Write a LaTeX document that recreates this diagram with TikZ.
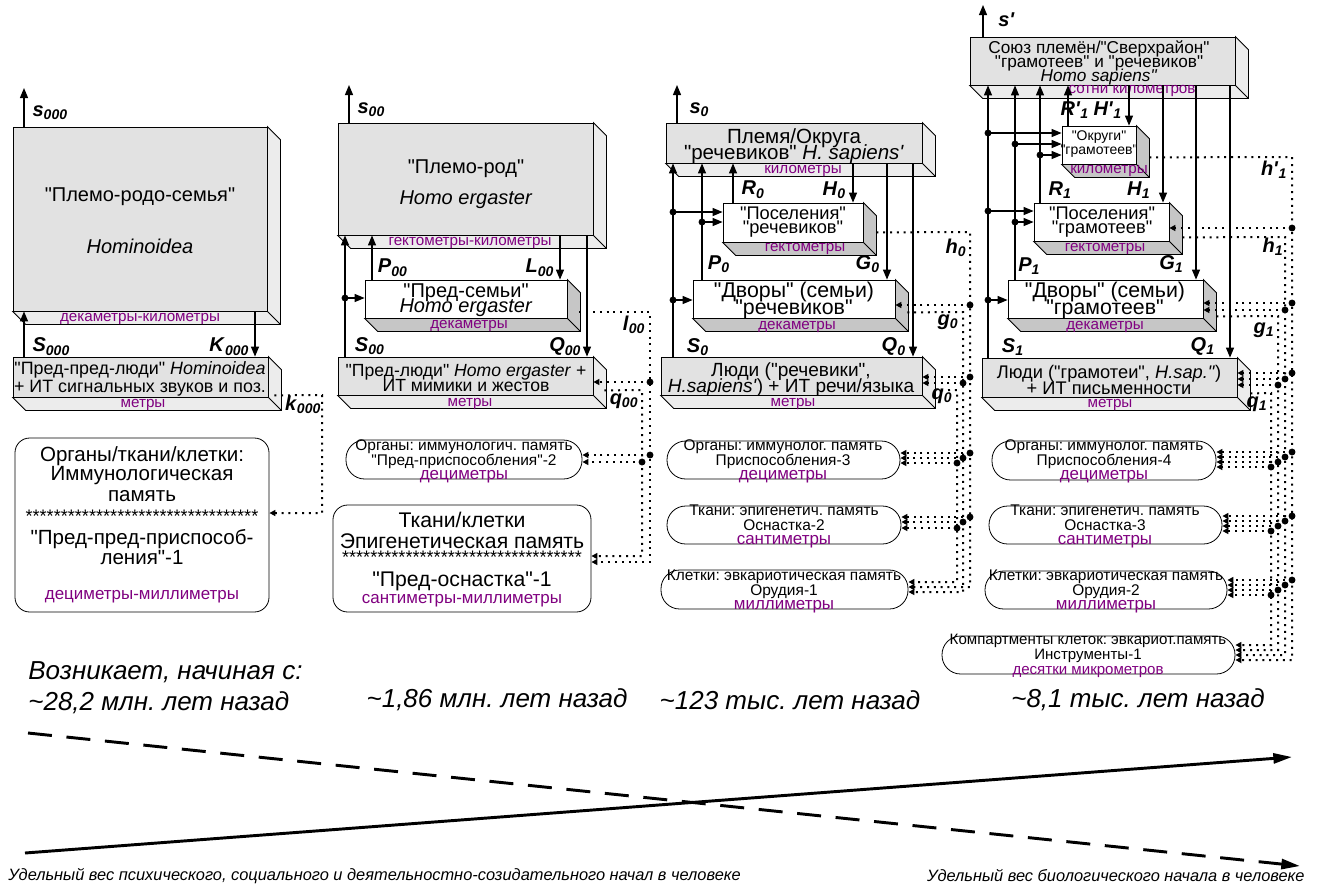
\documentclass[tikz,border=0pt]{standalone}
\usepackage{fontspec}
\setmainfont{Liberation Sans}[Ligatures=TeXOff]
\usetikzlibrary{arrows.meta,fit}

\definecolor{boxgray}{RGB}{226,226,226}
\definecolor{sidegray}{RGB}{236,236,236}
\definecolor{darkside}{RGB}{198,198,198}
\definecolor{unitpurple}{RGB}{128,0,128}

\newcommand\fs[2]{\fontsize{#1}{#2}\selectfont\lineskiplimit=-50pt\relax}
\newcommand\sig[2]{\textbf{\textit{#1}}\textsubscript{\textbf{\textit{#2}}}}
% боковая и нижняя грани блока
\newcommand\extrude[2]{%
  \filldraw[fill=#2] (#1.north east) -- ++(13,13) -- ([shift={(13,13)}]#1.south east)
    -- ([shift={(13,13)}]#1.south west) -- (#1.south west) -- (#1.south east) -- cycle;
  \draw (#1.south east) -- ++(13,13);}
% точка на линии и ответвление в блок
\newcommand\tap[3]{%
  \coordinate (#1) at (#2);
  \fill (#1) circle (2.6pt);
  \draw[darr] (#1) -- (#3.east |- #1);}

\begin{document}
\frenchspacing
\begin{tikzpicture}[x=0.75pt, y=-0.75pt, line width=0.6pt,
    gbox/.style={draw, fill=boxgray, inner sep=0pt},
    wbox/.style={draw, fill=white, inner sep=0pt},
    rbox/.style={draw, fill=white, inner sep=0pt, rounded corners=11pt},
    pill/.style={draw, fill=white, inner sep=0pt, rounded corners=14pt},
    txt/.style={align=center, inner sep=0pt},
    unit/.style={text=unitpurple, inner sep=0pt, font={\fs{11.4}{12}}},
    arr/.style={line width=0.9pt, -{Triangle[length=7.5pt,width=6pt]}},
    darr/.style={line width=1.5pt, dash pattern=on 1.5pt off 3.6pt, -{Triangle[length=4.5pt,width=4.5pt]}},
    lab/.style={inner sep=1pt, font={\fs{15}{15}}},
    era/.style={inner sep=0pt, font={\fs{19.5}{20}\itshape}},
    trend/.style={line width=2.2pt, -{Triangle[length=14pt,width=7.5pt]}}]
    \useasboundingbox (0,0) rectangle (1317,883);

    % Племо-родо-семья
    \node[gbox, fit={(13,127) (267,311)}] (pl000) {};
    \extrude{pl000}{sidegray}
    \node[txt, font={\fs{15}{15}}] (pl000-t) at (140,221) {"Племо-родо-семья"\\[24pt]\textit{Hominoidea}};
    \node[unit] (pl000-u) at (140,319) {декаметры-километры};

    \node[gbox, fit={(13,357) (268,397)}] (ppl000) {};
    \extrude{ppl000}{sidegray}
    \node[txt, font={\fs{13.4}{13}}] (ppl000-t) at (140,379) {"Пред-пред-люди" \textit{Hominoidea}\\+ ИТ сигнальных звуков и поз.};
    \node[unit] (ppl000-u) at (143,405) {метры};

    \node[rbox, fit={(15,438) (269,612)}] (org000) {};
    \node[txt, font={\fs{15.4}{15}}] (org000-t) at (142,525) {Органы/ткани/клетки:\\[-0.75pt]Иммунологическая\\[0.75pt]память\\[0.75pt]{\fs{13.6}{15}*********************************}\\[1.5pt]"Пред-пред-приспособ-\\ления"-1\\[11.25pt]\textcolor{unitpurple}{\fs{12.7}{15}дециметры-миллиметры}};

    % Племо-род
    \node[gbox, fit={(338,123) (593,235)}] (pl00) {};
    \extrude{pl00}{sidegray}
    \node[txt, font={\fs{15}{15}}] (pl00-t) at (466,184) {"Племо-род"\\[8.25pt]\textit{Homo ergaster}};
    \node[unit] (pl00-u) at (470,243) {гектометры-километры};

    \node[wbox, fit={(365,280) (567,318)}] (ps00) {};
    \extrude{ps00}{darkside}
    \node[txt, font={\fs{15}{11.5}}] (ps00-t) at (466,300) {"Пред-семьи"\\\textit{Homo ergaster}};
    \node[unit] (ps00-u) at (469,326) {декаметры};

    \node[gbox, fit={(338,357) (593,395)}] (pld00) {};
    \extrude{pld00}{sidegray}
    \node[txt, font={\fs{13.2}{11.5}}] (pld00-t) at (466,378) {"Пред-люди" \textit{Homo ergaster} +\\ИТ мимики и жестов};
    \node[unit] (pld00-u) at (470,404) {метры};

    \node[pill, fit={(346,440) (582,479)}] (org00) {};
    \node[txt, font={\fs{11.6}{11.25}}] (org00-t) at (464,461) {Органы: иммунологич. память\\"Пред-приспособления"-2\\[-0.75pt]\textcolor{unitpurple}{\fs{12.7}{11}дециметры}};

    \node[rbox, fit={(333,505) (591,612)}] (tk00) {};
    \node[txt, font={\fs{15.9}{15.75}}] (tk00-t) at (462,560) {Ткани/клетки\\Эпигенетическая память\\[-4.5pt]{\fs{13.6}{15}**********************************}\\[1.5pt]"Пред-оснастка"-1\\[-3pt]\textcolor{unitpurple}{\fs{12.7}{13}сантиметры-миллиметры}};

    % Племя/Округа "речевиков"
    \node[gbox, fit={(666,123) (922,163)}] (pm0) {};
    \extrude{pm0}{sidegray}
    \node[txt, font={\fs{15.4}{12}}] (pm0-t) at (794,146) {Племя/Округа\\"речевиков" \textit{H. sapiens'}};
    \node[unit] (pm0-u) at (803,171) {километры};

    \node[wbox, fit={(723,203) (863,242)}] (pos0) {};
    \extrude{pos0}{darkside}
    \node[txt, font={\fs{13.7}{11}}] (pos0-t) at (793,222) {"Поселения"\\"речевиков"};
    \node[unit] (pos0-u) at (805,249) {гектометры};

    \node[wbox, fit={(693,280) (895,318)}] (dv0) {};
    \extrude{dv0}{darkside}
    \node[txt, font={\fs{16}{12.75}}] (dv0-t) at (794,300) {"Дворы" (семьи)\\"речевиков"};
    \node[unit] (dv0-u) at (797,327) {декаметры};

    \node[gbox, fit={(661,357) (922,395)}] (ld0) {};
    \extrude{ld0}{sidegray}
    \node[txt, font={\fs{14.3}{12}}] (ld0-t) at (791,380) {Люди ("речевики",\\\textit{H.sapiens'}) + ИТ речи/языка};
    \node[unit] (ld0-u) at (793,404) {метры};

    \node[pill, fit={(667,441) (900,479)}] (org0) {};
    \node[txt, font={\fs{11.6}{11.25}}] (org0-t) at (783,461) {Органы: иммунолог. память\\Приспособления-3\\[-0.75pt]\textcolor{unitpurple}{\fs{12.7}{11}дециметры}};
    \node[pill, fit={(667,506) (901,544)}] (tk0) {};
    \node[txt, font={\fs{11.6}{11.25}}] (tk0-t) at (784,526) {Ткани: эпигенетич. память\\Оснастка-2\\[-0.75pt]\textcolor{unitpurple}{\fs{12.7}{11}сантиметры}};
    \node[pill, fit={(661,570) (908,609)}] (kl0) {};
    \node[txt, font={\fs{11.6}{11.25}}] (kl0-t) at (784,591) {Клетки: эвкариотическая память\\Орудия-1\\[-0.75pt]\textcolor{unitpurple}{\fs{12.7}{11}миллиметры}};

    % Союз племён "грамотеев" и "речевиков"
    \node[gbox, fit={(970,37) (1235,85)}] (su1) {};
    \extrude{su1}{sidegray}
    \node[txt, font={\fs{12.9}{10.5}}] (su1-t) at (1099,63) {Союз племён/"Сверхрайон"\\"грамотеев" и "речевиков"\\\textit{Homo sapiens"}};
    \node[unit] (su1-u) at (1132,91) {сотни километров};

    \node[wbox, fit={(1062,126) (1136,164)}] (ok1) {};
    \extrude{ok1}{darkside}
    \node[txt, font={\fs{10.5}{10}}] (ok1-t) at (1099,144) {"Округи"\\"грамотеев"};
    \node[unit] (ok1-u) at (1109,171) {километры};

    \node[wbox, fit={(1034,203) (1169,241)}] (pos1) {};
    \extrude{pos1}{darkside}
    \node[txt, font={\fs{13.7}{11}}] (pos1-t) at (1102,222) {"Поселения"\\"грамотеев"};
    \node[unit] (pos1-u) at (1105,249) {гектометры};

    \node[wbox, fit={(1008,280) (1203,318)}] (dv1) {};
    \extrude{dv1}{darkside}
    \node[txt, font={\fs{16}{12.75}}] (dv1-t) at (1105,300) {"Дворы" (семьи)\\"грамотеев"};
    \node[unit] (dv1-u) at (1105,327) {декаметры};

    \node[gbox, fit={(982,358) (1237,397)}] (ld1) {};
    \extrude{ld1}{sidegray}
    \node[txt, font={\fs{13.7}{11.5}}] (ld1-t) at (1109,380) {Люди ("грамотеи", \textit{H.sap."})\\+ ИТ письменности};
    \node[unit] (ld1-u) at (1110,405) {метры};

    \node[pill, fit={(992,441) (1216,480)}] (org1) {};
    \node[txt, font={\fs{11.6}{11.25}}] (org1-t) at (1104,461) {Органы: иммунолог. память\\Приспособления-4\\[-0.75pt]\textcolor{unitpurple}{\fs{12.7}{11}дециметры}};
    \node[pill, fit={(989,506) (1222,544)}] (tk1) {};
    \node[txt, font={\fs{11.6}{11.25}}] (tk1-t) at (1105,526) {Ткани: эпигенетич. память\\Оснастка-3\\[-0.75pt]\textcolor{unitpurple}{\fs{12.7}{11}сантиметры}};
    \node[pill, fit={(985,571) (1227,609)}] (kl1) {};
    \node[txt, font={\fs{11.6}{11.25}}] (kl1-t) at (1106,591) {Клетки: эвкариотическая память\\Орудия-2\\[-0.75pt]\textcolor{unitpurple}{\fs{12.7}{11}миллиметры}};
    \node[pill, fit={(942,636) (1235,674)}] (km1) {};
    \node[txt, font={\fs{11.3}{11}}] (km1-t) at (1088,656) {Компартменты клеток: эвкариот.память\\Инструменты-1\\\textcolor{unitpurple}{\fs{11.3}{11}десятки микрометров}};

    % связи: столбец 000
    \coordinate (s000) at (24,88);
    \coordinate (cK000) at (255,0);
    \draw[arr] (pl000.north -| s000) -- (s000) node[lab, pos=0.35, right=5pt] {\sig{s}{000}};
    \draw[arr] (ppl000.north -| s000) -- (pl000.south -| s000) node[lab, pos=0.22, right=5pt] {\sig{S}{000}};
    \draw[arr] (pl000.south -| cK000) -- (ppl000.north -| cK000) node[lab, pos=0.78, left=3pt] {\sig{K}{000}};

    % связи: столбец 00
    \coordinate (s00) at (349,85);
    \coordinate (cS00) at (345,0);
    \coordinate (cP00) at (372,0);
    \coordinate (cL00) at (560,0);
    \coordinate (cQ00) at (587,0);
    \draw[arr] (pl00.north -| s00) -- (s00) node[lab, pos=0.35, right=5pt] {\sig{s}{00}};
    \draw[arr] (pld00.north -| cS00) -- (pl00.south -| cS00) node[lab, pos=0.09, right=6pt] {\sig{S}{00}};
    \draw[arr] (ps00.north -| cP00) -- (pl00.south -| cP00) node[lab, pos=0.27, right=3pt] {\sig{P}{00}};
    \draw[arr] (pl00.south -| cL00) -- (ps00.north -| cL00) node[lab, pos=0.73, left=3pt] {\sig{L}{00}};
    \draw[arr] (pl00.south -| cQ00) -- (pld00.north -| cQ00) node[lab, pos=0.92, left=3pt] {\sig{Q}{00}};
    \coordinate (j00) at (345,298);
    \fill (j00) circle (2.6pt);
    \draw[arr] (j00) -- (ps00.west |- j00);

    % связи: столбец 0
    \coordinate (s0) at (677,85);
    \coordinate (cS0) at (673,0);
    \coordinate (cP0) at (702,0);
    \coordinate (cR0) at (733,0);
    \coordinate (cH0) at (853,0);
    \coordinate (cG0) at (887,0);
    \coordinate (cQ0) at (913,0);
    \draw[arr] (pm0.north -| s0) -- (s0) node[lab, pos=0.35, right=8pt] {\sig{s}{0}};
    \draw[arr] (ld0.north -| cS0) -- (pm0.south -| cS0) node[lab, pos=0.05, right=9pt] {\sig{S}{0}};
    \draw[arr] (dv0.north -| cP0) -- (pm0.south -| cP0) node[lab, pos=0.13, right=3pt] {\sig{P}{0}};
    \draw[arr] (pos0.north -| cR0) -- (pm0.south -| cR0) node[lab, pos=0.33, right=5pt] {\sig{R}{0}};
    \draw[arr] (pm0.south -| cH0) -- (pos0.north -| cH0) node[lab, pos=0.68, left=4pt] {\sig{H}{0}};
    \draw[arr] (pm0.south -| cG0) -- (dv0.north -| cG0) node[lab, pos=0.87, left=4pt] {\sig{G}{0}};
    \draw[arr] (pm0.south -| cQ0) -- (ld0.north -| cQ0) node[lab, pos=0.95, left=4pt] {\sig{Q}{0}};
    \coordinate (j0a) at (673,212);
    \coordinate (j0b) at (702,222);
    \coordinate (j0c) at (673,300);
    \fill (j0a) circle (2.6pt) (j0b) circle (2.6pt) (j0c) circle (2.6pt);
    \draw[arr] (j0a) -- (pos0.west |- j0a);
    \draw[arr] (j0b) -- (pos0.west |- j0b);
    \draw[arr] (j0c) -- (dv0.west |- j0c);

    % связи: столбец 1
    \coordinate (s1) at (983,5);
    \coordinate (cS1) at (988,0);
    \coordinate (cP1) at (1015,0);
    \coordinate (cR1) at (1040,0);
    \coordinate (cRp1) at (1068,0);
    \coordinate (cHp1) at (1129,0);
    \coordinate (cH1) at (1163,0);
    \coordinate (cG1) at (1196,0);
    \coordinate (cQ1) at (1230,0);
    \draw[arr] (su1.north -| s1) -- (s1) node[lab, pos=0.53, right=10pt] {\textbf{\textit{s'}}};
    \draw[arr] (ld1.north -| cS1) -- (su1.south -| cS1) node[lab, pos=0.04, right=9pt] {\sig{S}{1}};
    \draw[arr] (dv1.north -| cP1) -- (su1.south -| cP1) node[lab, pos=0.07, right=1pt] {\sig{P}{1}};
    \draw[arr] (pos1.north -| cR1) -- (su1.south -| cR1) node[lab, pos=0.11, right=5pt] {\sig{R}{1}};
    \draw[arr] (ok1.north -| cRp1) -- (su1.south -| cRp1) node[lab, pos=0.39, right=-7pt] {\sig{R'}{1}};
    \draw[arr] (su1.south -| cHp1) -- (ok1.north -| cHp1) node[lab, pos=0.61, left=4pt] {\sig{H'}{1}};
    \draw[arr] (su1.south -| cH1) -- (pos1.north -| cH1) node[lab, pos=0.89, left=8pt] {\sig{H}{1}};
    \draw[arr] (su1.south -| cG1) -- (dv1.north -| cG1) node[lab, pos=0.92, left=8pt] {\sig{G}{1}};
    \draw[arr] (su1.south -| cQ1) -- (ld1.north -| cQ1) node[lab, pos=0.96, left=10pt] {\sig{Q}{1}};
    \coordinate (j1a) at (988,133);
    \coordinate (j1b) at (1015,144);
    \coordinate (j1c) at (1040,155);
    \coordinate (j1d) at (988,211);
    \coordinate (j1e) at (1015,222);
    \coordinate (j1f) at (988,300);
    \fill (j1a) circle (2.6pt) (j1b) circle (2.6pt) (j1c) circle (2.6pt)
          (j1d) circle (2.6pt) (j1e) circle (2.6pt) (j1f) circle (2.6pt);
    \draw[arr] (j1a) -- (ok1.west |- j1a);
    \draw[arr] (j1b) -- (ok1.west |- j1b);
    \draw[arr] (j1c) -- (ok1.west |- j1c);
    \draw[arr] (j1d) -- (pos1.west |- j1d);
    \draw[arr] (j1e) -- (pos1.west |- j1e);
    \draw[arr] (j1f) -- (dv1.west |- j1f);

    % пунктир: столбец 000
    \coordinate (k000a) at (322,395);
    \coordinate (k000b) at (322,513);
    \draw[darr] ([shift={(6,-2)}]ppl000.south east) -- (k000a) -- (k000b) -- (org000.east |- k000b);
    \node[lab] (k000-l) at (303,405) {\sig{k}{000}};

    % пунктир: столбец 00
    \coordinate (l00a) at (650,312);
    \coordinate (l00b) at (650,562);
    \coordinate (q00a) at (642,390);
    \coordinate (q00b) at (642,556);
    \draw[darr] ([shift={(12,13)}]ps00.east) -- (l00a) -- (l00b) -- (tk00.east |- l00b);
    \draw[darr] ([shift={(11,-5)}]pld00.south east) -- (q00a) -- (q00b) -- (tk00.east |- q00b);
    \node[lab] (l00-l) at (634,325) {\sig{l}{00}};
    \node[lab] (q00-l) at (624,401) {\sig{q}{00}};
    \tap{t00a}{650,382}{pld00}
    \tap{t00b}{650,455}{org00}
    \tap{t00c}{642,462}{org00}

    % пунктир: столбец 0
    \coordinate (h0a) at (970,232);
    \coordinate (h0b) at (970,587);
    \coordinate (g0a) at (963,312);
    \coordinate (g0b) at (963,592);
    \coordinate (q0a) at (957,390);
    \coordinate (q0b) at (957,582);
    \draw[darr] ([shift={(13,-10)}]pos0.south east) -- (h0a) -- (h0b) -- (kl0.east |- h0b);
    \draw[darr] ([shift={(12,-6)}]dv0.south east) -- (g0a) -- (g0b) -- (kl0.east |- g0b);
    \draw[darr] ([shift={(12,-5)}]ld0.south east) -- (q0a) -- (q0b) -- (kl0.east |- q0b);
    \node[lab] (h0-l) at (956,248) {\sig{h}{0}};
    \node[lab] (g0-l) at (948,322) {\sig{g}{0}};
    \node[lab] (q0-l) at (942,396) {\sig{q}{0}};
    \tap{t0a}{970,305}{dv0}
    \tap{t0b}{970,377}{ld0}
    \tap{t0c}{963,383}{ld0}
    \tap{t0d}{970,453}{org0}
    \tap{t0e}{963,458}{org0}
    \tap{t0f}{957,463}{org0}
    \tap{t0g}{970,517}{tk0}
    \tap{t0h}{963,522}{tk0}
    \tap{t0i}{957,528}{tk0}

    % пунктир: столбец 1
    \coordinate (hp1a) at (1292,157);
    \coordinate (hp1b) at (1292,660);
    \coordinate (h1a) at (1285,237);
    \coordinate (h1b) at (1285,655);
    \coordinate (g1a) at (1278,316);
    \coordinate (g1b) at (1278,650);
    \coordinate (q1a) at (1271,393);
    \coordinate (q1b) at (1271,645);
    \draw[darr] ([shift={(13,-7)}]ok1.south east) -- (hp1a) -- (hp1b) -- (km1.east |- hp1b);
    \draw[darr] ([shift={(13,-4)}]pos1.south east) -- (h1a) -- (h1b) -- (km1.east |- h1b);
    \draw[darr] ([shift={(13,-2)}]dv1.south east) -- (g1a) -- (g1b) -- (km1.east |- g1b);
    \draw[darr] ([shift={(13,-4)}]ld1.south east) -- (q1a) -- (q1b) -- (km1.east |- q1b);
    \node[lab] (hp1-l) at (1274,170) {\sig{h'}{1}};
    \node[lab] (h1-l) at (1273,247) {\sig{h}{1}};
    \node[lab] (g1-l) at (1264,330) {\sig{g}{1}};
    \node[lab] (q1-l) at (1257,404) {\sig{q}{1}};
    \tap{t1a}{1292,228}{pos1}
    \tap{t1b}{1292,303}{dv1}
    \tap{t1c}{1285,310}{dv1}
    \tap{t1d}{1292,373}{ld1}
    \tap{t1e}{1285,379}{ld1}
    \tap{t1f}{1278,385}{ld1}
    \tap{t1g}{1292,452}{org1}
    \tap{t1h}{1285,457}{org1}
    \tap{t1i}{1278,462}{org1}
    \tap{t1j}{1271,467}{org1}
    \tap{t1k}{1292,516}{tk1}
    \tap{t1l}{1285,521}{tk1}
    \tap{t1m}{1278,526}{tk1}
    \tap{t1n}{1271,531}{tk1}
    \tap{t1o}{1292,580}{kl1}
    \tap{t1p}{1285,585}{kl1}
    \tap{t1q}{1278,590}{kl1}
    \tap{t1r}{1271,595}{kl1}

    % эпохи
    \node[era, anchor=west] (era0) at (28,672) {Возникает, начиная с:};
    \node[era, anchor=west] (era1) at (28,703) {\textasciitilde 28,2 млн. лет назад};
    \node[era] (era2) at (497,700) {\textasciitilde 1,86 млн. лет назад};
    \node[era] (era3) at (790,700) {\textasciitilde 123 тыс. лет назад};
    \node[era] (era4) at (1138,700) {\textasciitilde 8,1 тыс. лет назад};

    % удельные веса
    \coordinate (bio0) at (28,733);
    \coordinate (bio1) at (1300,866);
    \coordinate (psy0) at (25,853);
    \coordinate (psy1) at (1292,757);
    \draw[trend, dash pattern=on 18pt off 11pt] (bio0) -- (bio1);
    \draw[trend] (psy0) -- (psy1);
    \node[inner sep=0pt, anchor=west, font={\fs{12.3}{13}\itshape}] (psy-t) at (8,876) {Удельный вес психического, социального и деятельностно-созидательного начал в человеке};
    \node[inner sep=0pt, anchor=east, font={\fs{12.3}{13}\itshape}] (bio-t) at (1305,876) {Удельный вес биологического начала в человеке};
\end{tikzpicture}
\end{document}
